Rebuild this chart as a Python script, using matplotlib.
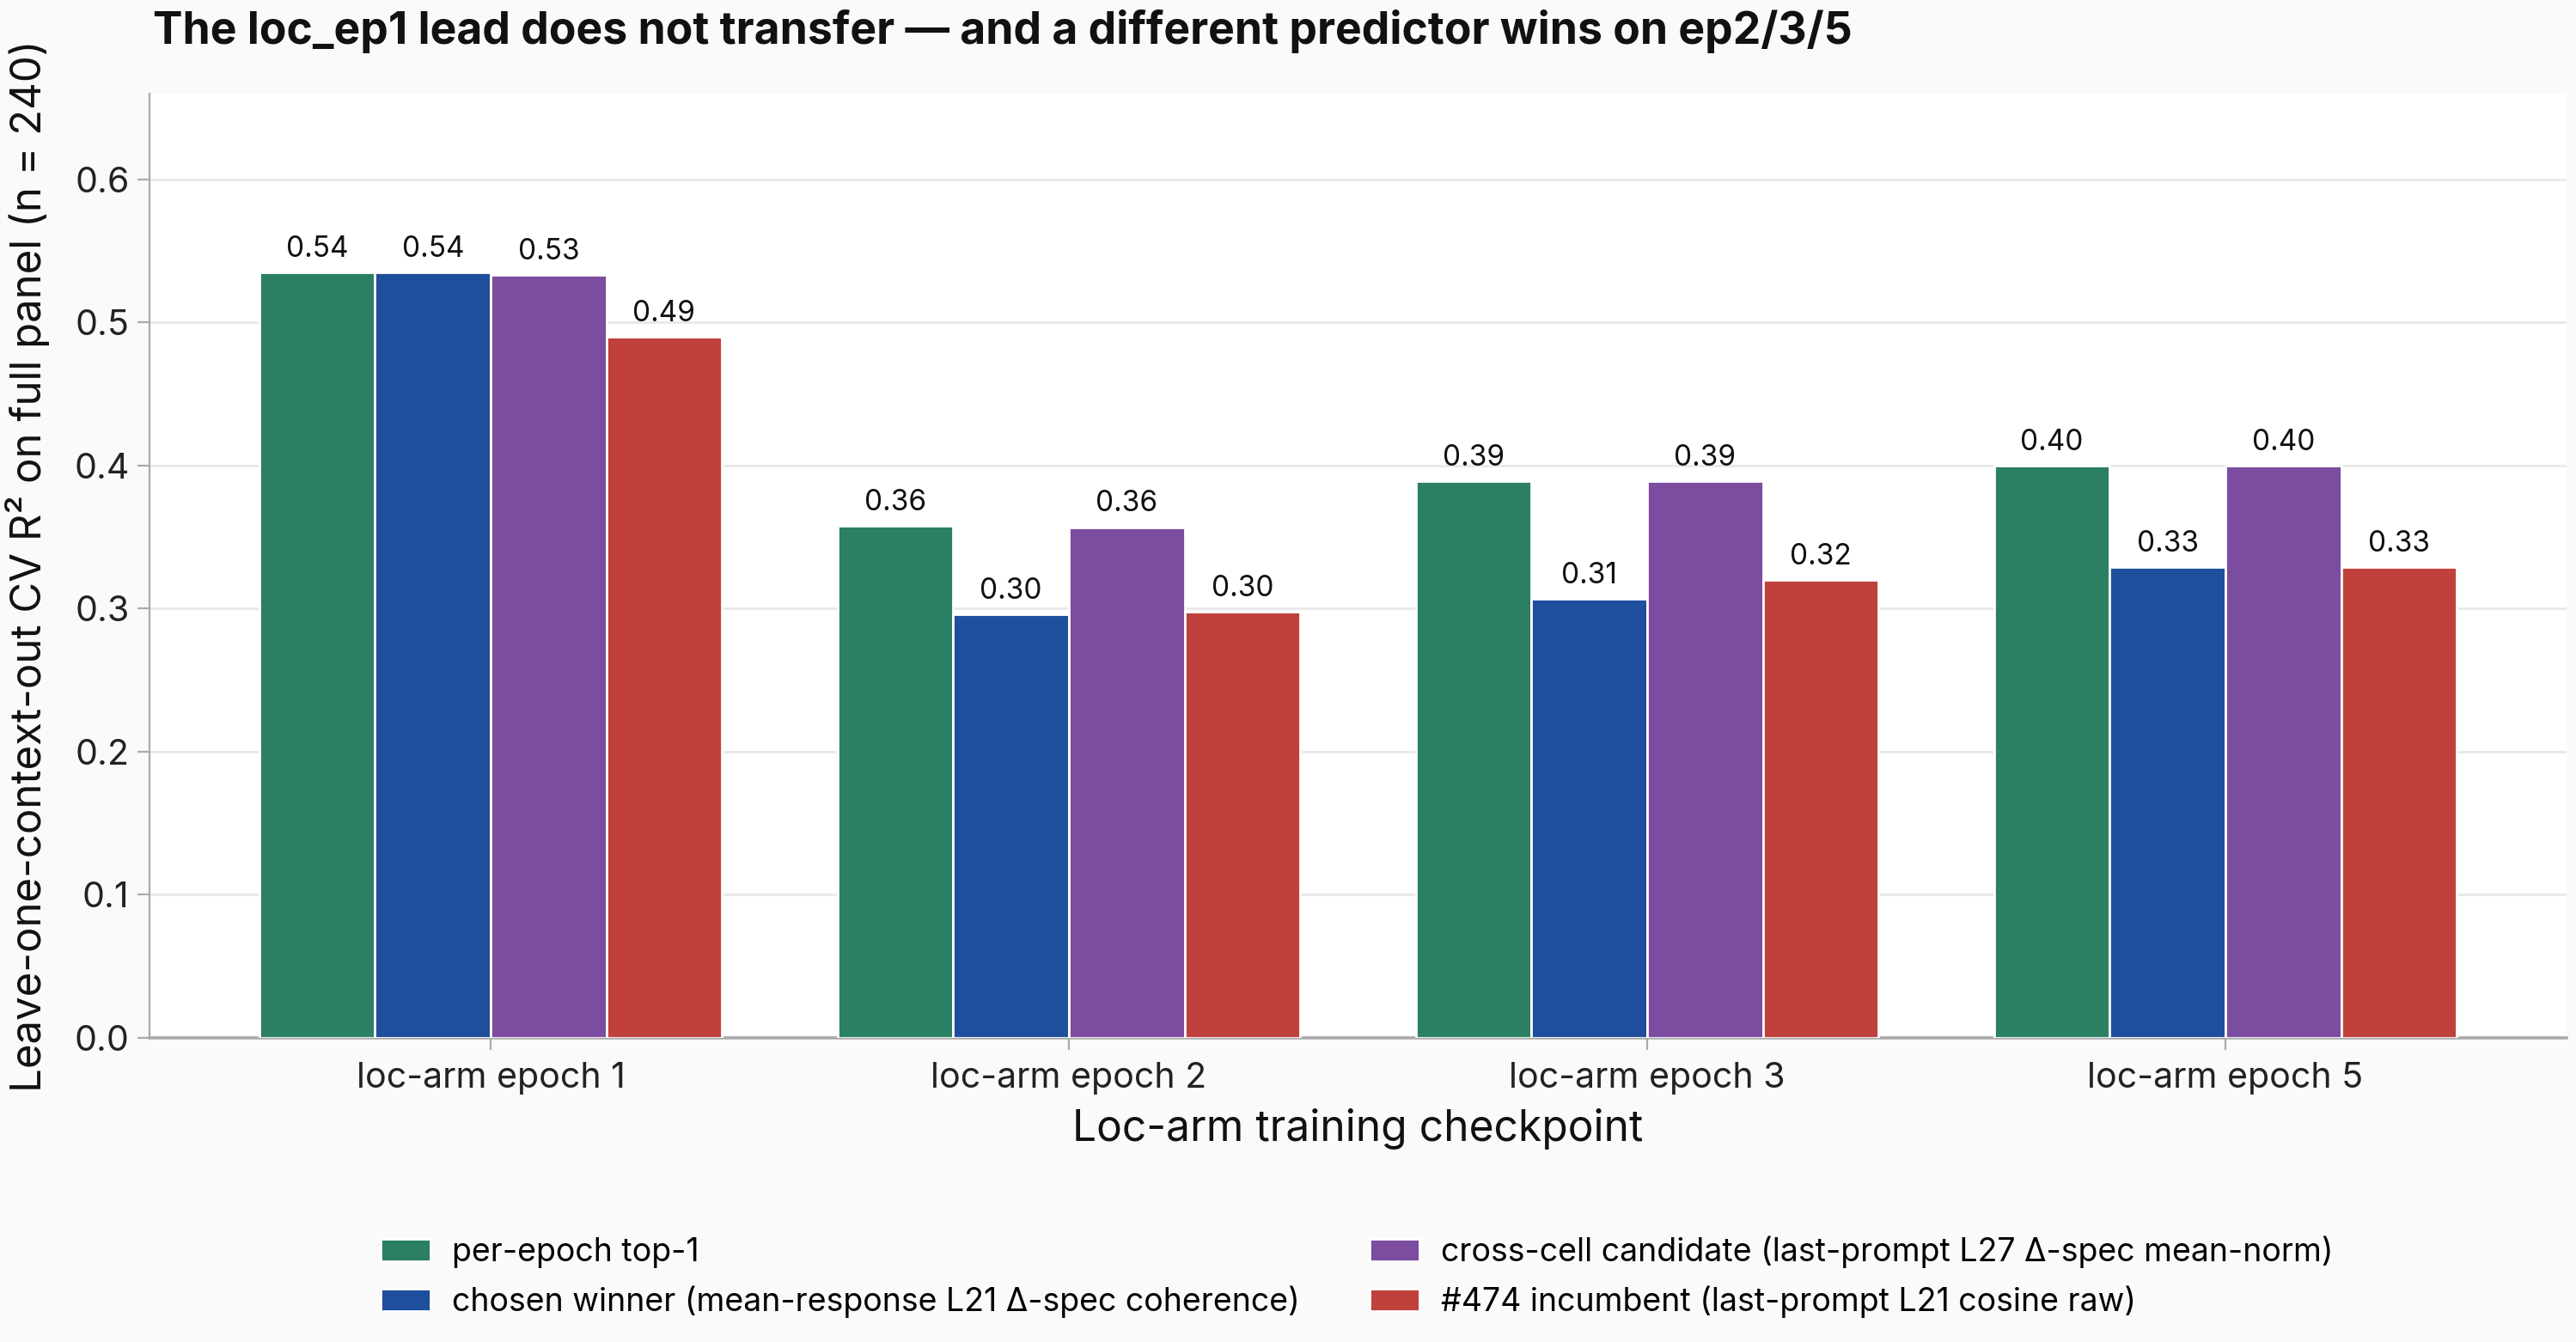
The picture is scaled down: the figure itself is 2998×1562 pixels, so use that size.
import matplotlib
matplotlib.use("Agg")
import matplotlib.pyplot as plt
import numpy as np

plt.rcParams['font.family'] = ['Inter', 'DejaVu Sans']

categories = ["loc-arm epoch 1", "loc-arm epoch 2", "loc-arm epoch 3", "loc-arm epoch 5"]
series_names = [
    "per-epoch top-1",
    "chosen winner (mean-response L21 \u0394-spec coherence)",
    "cross-cell candidate (last-prompt L27 \u0394-spec mean-norm)",
    "#474 incumbent (last-prompt L21 cosine raw)",
]
top1 = [0.535, 0.358, 0.389, 0.400]
chosen = [0.535, 0.296, 0.307, 0.329]
cross = [0.533, 0.357, 0.389, 0.400]
incumbent = [0.490, 0.298, 0.320, 0.329]
colors = ["#2b7f62", "#1f4e9c", "#7b4c9f", "#c0403c"]

fig = plt.figure(figsize=(14.99, 7.81), dpi=200, facecolor="#fafafa")
ax = fig.add_axes([174/2998, 1-1208/1562, (2987-174)/2998, (1208-109)/1562])
ax.set_facecolor("white")

x = np.arange(len(categories))
w = 0.2
all_series = [top1, chosen, cross, incumbent]
for i, (vals, name, c) in enumerate(zip(all_series, series_names, colors)):
    bars = ax.bar(x + (i - 1.5) * w, vals, w, color=c, edgecolor="white", linewidth=1.0,
                  label=name, zorder=3)
    for b, v in zip(bars, vals):
        ax.annotate(f"{v:.2f}", (b.get_x() + b.get_width()/2, v), xytext=(0, 4),
                    textcoords="offset points", ha="center", va="bottom", fontsize=12,
                    color="#111111", zorder=4)

ax.set_xlim(-0.59, 3.59)
ax.set_ylim(0, 0.66)
ax.set_yticks([0.0, 0.1, 0.2, 0.3, 0.4, 0.5, 0.6])
ax.set_yticklabels([f"{t:.1f}" for t in [0.0, 0.1, 0.2, 0.3, 0.4, 0.5, 0.6]])
ax.set_xticks(x)
ax.set_xticklabels(categories)
ax.tick_params(axis='both', labelsize=14.8, colors="#222222")
ax.tick_params(axis='both', color="#aaaaaa", length=5)
ax.tick_params(axis='x', pad=5)
ax.yaxis.grid(True, color="#e8e8e8", linewidth=1.0, zorder=0)
ax.set_axisbelow(True)
for s in ["top", "right"]:
    ax.spines[s].set_visible(False)
for s in ["left", "bottom"]:
    ax.spines[s].set_color("#aaaaaa")
ax.spines["bottom"].set_linewidth(1.3)

ax.set_xlabel("Loc-arm training checkpoint", fontsize=17.9, color="#111111", labelpad=6)
ax.set_ylabel("Leave-one-context-out CV R\u00b2 on full panel (n = 240)", fontsize=17.7,
              color="#111111", labelpad=10)

fig.text(93/1568, 1-19/817, "The loc_ep1 lead does not transfer \u2014 and a different predictor wins on ep2/3/5",
         fontsize=18.6, fontweight="bold", ha="left", va="center", color="#111111")

handles, labels = ax.get_legend_handles_labels()
fig.legend(handles, labels, loc="center", bbox_to_anchor=(826/1568, 1-777.5/817), ncol=2,
           frameon=False, fontsize=13.5, columnspacing=2.15, handlelength=1.55,
           handletextpad=0.67, handleheight=0.7, labelspacing=0.55)

fig.savefig("out.png", dpi=200, facecolor=fig.get_facecolor())
